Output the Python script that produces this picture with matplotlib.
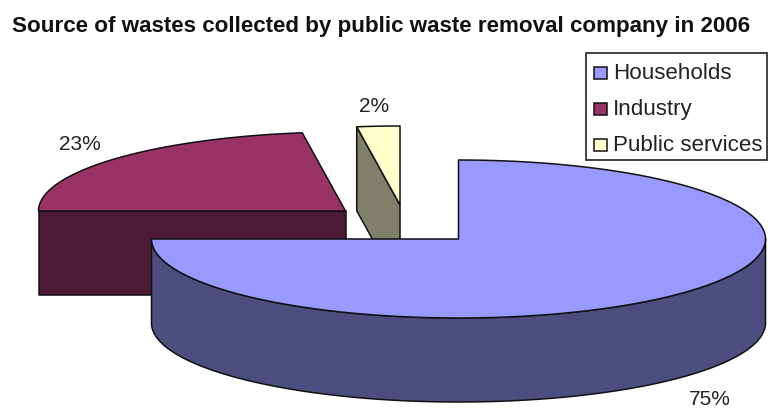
import numpy as np
import matplotlib as mpl
mpl.use('Agg')
import matplotlib.pyplot as plt
from matplotlib.patches import Polygon, Rectangle

title = "Source of wastes collected by public waste removal company in 2006"
sources = ["Households", "Industry", "Public services"]
shares = [75.0, 22.75, 2.25]
top_colors = ["#9999ff", "#993366", "#ffffcc"]
side_colors = ["#4d4d80", "#4d1a33", "#80806a"]

# pixel layout of the exploded pie
centers = [(458.5, 239), (345.5, 211), (400, 205)]
label_pos = [(710, 405), (80, 150), (374, 112)]
rx = 307
ry = 79
depth = 84
edge = "#111111"
font = "Liberation Sans"


def arc(c, t0, t1):
    t = np.radians(np.linspace(t0, t1, 200))
    return np.column_stack((c[0] + rx * np.sin(t), c[1] - ry * np.cos(t)))


def add_poly(ax, pts, color):
    ax.add_patch(Polygon(pts, closed=True, facecolor=color, edgecolor=edge,
                         linewidth=1.1, joinstyle='round'))


def radial_face(ax, c, t, color):
    tip = arc(c, t, t)[0]
    add_poly(ax, [c, tip, (tip[0], tip[1] + depth), (c[0], c[1] + depth)], color)


def draw_slice(ax, c, t0, t1, top, side):
    # cut faces, only the ones turned towards the viewer
    if 180 < t0 < 360:
        radial_face(ax, c, t0, side)
    if 0 < t1 < 180:
        radial_face(ax, c, t1, side)
    # outer wall is seen between 3 and 9 o'clock
    a, b = max(t0, 90), min(t1, 270)
    if a < b:
        rim = arc(c, a, b)
        low = rim + [0, depth]
        add_poly(ax, np.vstack((rim, low[::-1])), side)
    add_poly(ax, np.vstack(([c], arc(c, t0, t1))), top)


fig = plt.figure(figsize=(7.68, 4.09), dpi=100)
ax = fig.add_axes([0, 0, 1, 1])
ax.set_xlim(0, 768)
ax.set_ylim(409, 0)
ax.axis('off')

ends = np.cumsum(shares) * 3.6
starts = np.concatenate(([0], ends[:-1]))

# back slices first, the big one sits in front
for i in [1, 2, 0]:
    draw_slice(ax, centers[i], starts[i], ends[i], top_colors[i], side_colors[i])

for i in range(3):
    ax.text(label_pos[i][0], label_pos[i][1], "%d%%" % round(shares[i]),
            ha='center', va='baseline', fontsize=15, family=font, color="#222222")

ax.text(12, 32, title, ha='left', va='baseline', fontsize=16.1, fontweight='bold',
        family=font, color="#111111")

# legend box
ax.add_patch(Rectangle((585.5, 52.5), 181, 107, facecolor='white',
                       edgecolor="#333333", linewidth=1.3))
for i, name in enumerate(sources):
    y = 72.5 + 36 * i
    ax.add_patch(Rectangle((594, y - 6), 12.5, 12.5, facecolor=top_colors[i],
                           edgecolor=edge, linewidth=1.1))
    ax.text(613, y + 6.5, name, ha='left', va='baseline', fontsize=16.1, family=font,
            color="#222222")

fig.savefig("out.png", dpi=100)
